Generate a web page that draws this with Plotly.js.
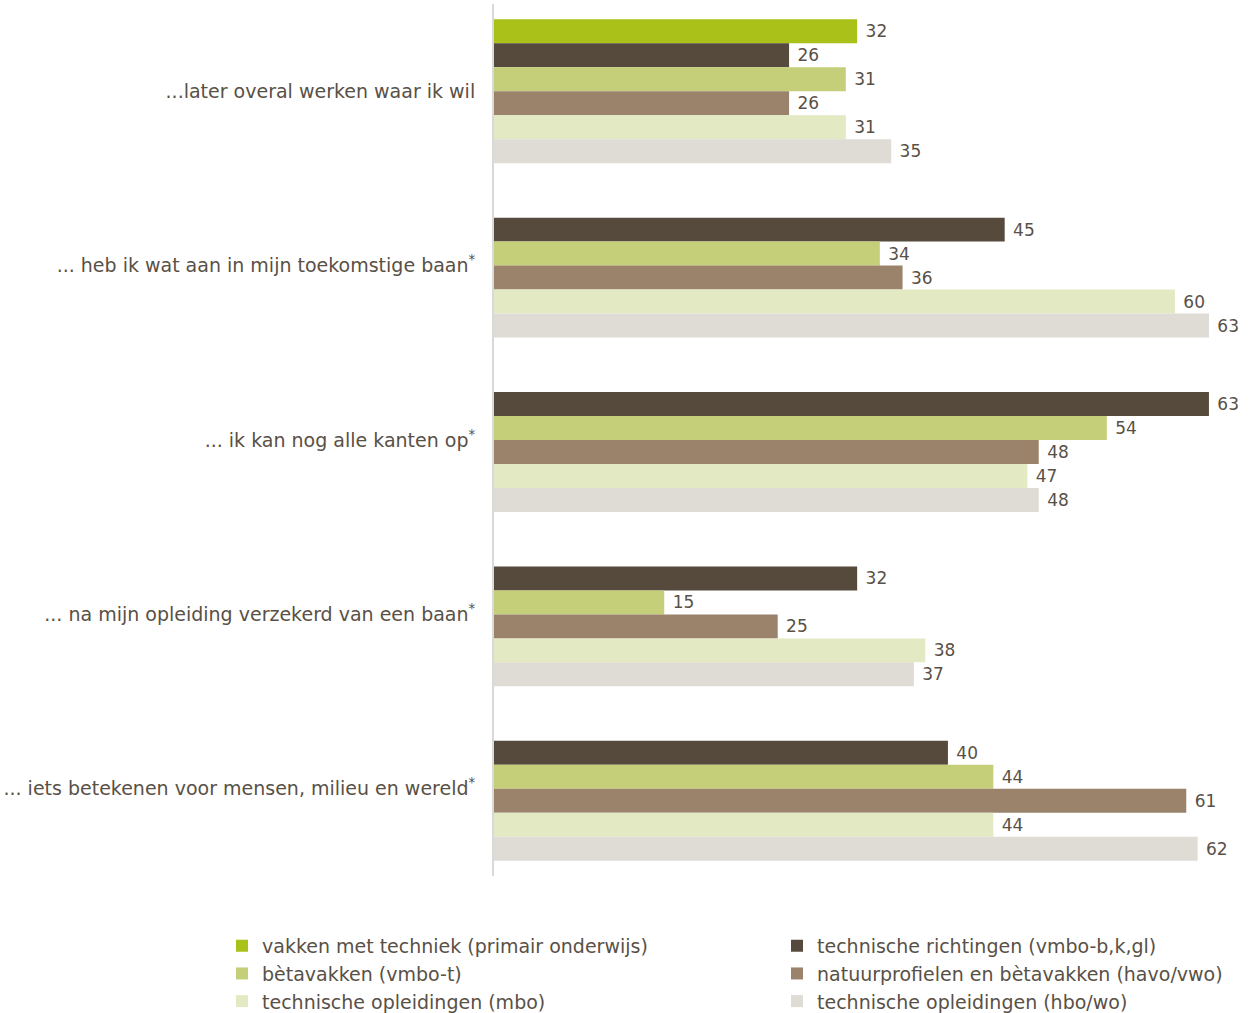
<!DOCTYPE html>
<html>
<head>
<meta charset="utf-8">
<script src="https://cdn.plot.ly/plotly-3.0.1.min.js"></script>
<style>html,body{margin:0;padding:0;background:#fff;}#chart{width:1250px;height:1013px;}</style>
</head>
<body>
<div id="chart"></div>
<script>
const categories = [
  "...later overal werken waar ik wil",
  "... heb ik wat aan in mijn toekomstige baan<sup>*</sup>",
  "... ik kan nog alle kanten op<sup>*</sup>",
  "... na mijn opleiding verzekerd van een baan<sup>*</sup>",
  "... iets betekenen voor mensen, milieu en wereld<sup>*</sup>"
];
const seriesNames = [
  "vakken met techniek (primair onderwijs)",
  "technische richtingen (vmbo-b,k,gl)",
  "bètavakken (vmbo-t)",
  "natuurprofielen en bètavakken (havo/vwo)",
  "technische opleidingen (mbo)",
  "technische opleidingen (hbo/wo)"
];
const vakkenMetTechniek = [32, null, null, null, null];
const technischeRichtingen = [26, 45, 63, 32, 40];
const betavakken = [31, 34, 54, 15, 44];
const natuurprofielen = [26, 36, 48, 25, 61];
const opleidingenMbo = [31, 60, 47, 38, 44];
const opleidingenHbo = [35, 63, 48, 37, 62];
const seriesValues = [vakkenMetTechniek, technischeRichtingen, betavakken, natuurprofielen, opleidingenMbo, opleidingenHbo];
const colors = ['#A9C118', '#564A3C', '#C5CF79', '#9B826B', '#E3E9C3', '#DFDBD5'];
const legendOf = ['legend', 'legend2', 'legend', 'legend2', 'legend', 'legend2'];

const textColor = '#595046';
const fontFam = 'Verdana, "DejaVu Sans", sans-serif';

const traces = seriesNames.map((name, i) => ({
  type: 'bar',
  orientation: 'h',
  name: name,
  legend: legendOf[i],
  legendgroup: 'g' + i,
  y: categories,
  x: seriesValues[i],
  marker: {color: colors[i], line: {width: 0}},
  text: seriesValues[i].map(v => v === null ? '' : ' ' + v),
  texttemplate: '%{text}',
  textposition: 'outside',
  constraintext: 'none',
  cliponaxis: false,
  textfont: {family: fontFam, size: 17, color: textColor},
  hoverinfo: 'skip'
}));

function legendAt(xpx) {
  return {
    orientation: 'v',
    xref: 'container',
    yref: 'container',
    x: xpx / 1250,
    xanchor: 'left',
    y: 0.085,
    yanchor: 'top',
    traceorder: 'normal',
    font: {family: fontFam, size: 19, color: textColor},
    itemwidth: 30,
    tracegroupgap: 6,
    bgcolor: 'rgba(0,0,0,0)'
  };
}

const layout = {
  width: 1250,
  height: 1013,
  margin: {l: 494, r: 7, t: 4, b: 137, autoexpand: false},
  paper_bgcolor: '#fff',
  plot_bgcolor: '#fff',
  barmode: 'group',
  bargap: 0.175,
  bargroupgap: 0,
  font: {family: fontFam, size: 19, color: textColor},
  xaxis: {range: [0, 66], visible: false, fixedrange: true},
  yaxis: {
    type: 'category',
    range: [4.5, -0.5],
    showline: true,
    linecolor: '#D9D9D9',
    linewidth: 2,
    showgrid: false,
    zeroline: false,
    ticks: 'outside',
    ticklen: 13,
    tickcolor: 'rgba(0,0,0,0)',
    tickfont: {family: fontFam, size: 19, color: textColor},
    fixedrange: true
  },
  showlegend: true,
  legend: legendAt(222),
  legend2: legendAt(777)
};

Plotly.newPlot('chart', traces, layout, {displayModeBar: false, staticPlot: true});
</script>
</body>
</html>
